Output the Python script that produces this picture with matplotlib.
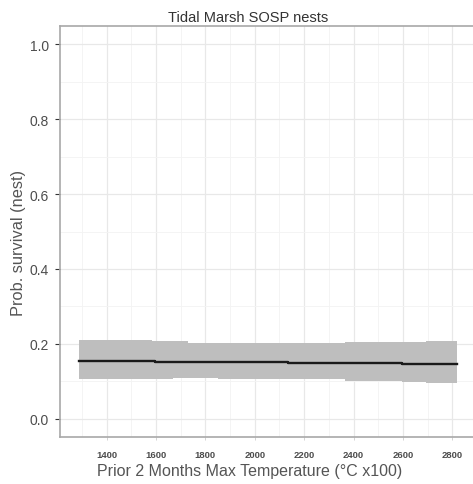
import numpy as np
import matplotlib
matplotlib.use('Agg')
import matplotlib.pyplot as plt

plt.rcParams['font.family'] = ['Liberation Sans', 'DejaVu Sans']

# Fitted survival (step-like)
line_x = [1288, 1596, 2135, 2595, 2818]
line_y = [0.155, 0.151, 0.1476, 0.145, 0.145]

# Confidence ribbon
ribbon_x = [1288, 1582, 1667, 1730, 1852, 2365, 2595, 2695, 2818]
ribbon_hi = [0.210, 0.2065, 0.2065, 0.202, 0.202, 0.2036, 0.2036, 0.207, 0.207]
ribbon_lo = [0.107, 0.107, 0.109, 0.109, 0.106, 0.101, 0.098, 0.095, 0.095]

x_ticks = [1400, 1600, 1800, 2000, 2200, 2400, 2600, 2800]
y_ticks = [0.0, 0.2, 0.4, 0.6, 0.8, 1.0]

W, H = 473, 485
fig = plt.figure(figsize=(W / 100, H / 100), dpi=100)
ax = fig.add_axes([60 / W, (H - 438.3) / H, 415.7 / W, (438.3 - 26.7) / H])

ax.fill_between(ribbon_x, ribbon_lo, ribbon_hi, step='post',
                color='#bebebe', linewidth=0, zorder=2)
ax.plot(line_x, line_y, drawstyle='steps-post', color='#1a1a1a',
        linewidth=1.7, zorder=3)

ax.set_xlim(1211, 2895)
ax.set_ylim(-0.05, 1.05)

ax.set_xticks(x_ticks)
ax.set_xticklabels([str(t) for t in x_ticks])
ax.set_xticks(np.arange(1300, 2900, 200), minor=True)
ax.set_yticks(y_ticks)
ax.set_yticklabels([f'{t:.1f}' for t in y_ticks])
ax.set_yticks([0.1, 0.3, 0.5, 0.7, 0.9], minor=True)

ax.grid(True, which='major', color='#e8e8e8', linewidth=0.9, zorder=0)
ax.grid(True, which='minor', color='#f3f3f3', linewidth=0.6, zorder=0)
ax.set_axisbelow(True)

for side in ['left', 'bottom', 'top', 'right']:
    ax.spines[side].set_color('#a8a8a8')
    ax.spines[side].set_linewidth(1.2)

ax.tick_params(axis='y', which='major', length=3.6, width=0.8, color='#333333',
               pad=4.5, labelsize=10, labelcolor='#4d4d4d')
ax.tick_params(axis='x', which='major', length=2.5, width=0.6, color='#cccccc',
               pad=7, labelsize=6.8, labelcolor='#4d4d4d')
ax.tick_params(which='minor', length=0)
for lbl in ax.get_xticklabels():
    lbl.set_fontweight('bold')

ax.set_xlabel('Prior 2 Months Max Temperature (°C x100)', fontsize=11.5,
              color='#555555')
ax.xaxis.set_label_coords((250 - 60) / 415.7, -(471.7 - 438.3) / 411.6)
ax.xaxis.label.set_va('center')
ax.set_ylabel('Prob. survival (nest)', fontsize=11.8, color='#555555')
ax.yaxis.set_label_coords(-(60 - 18) / 415.7, (438.3 - 242.5) / 411.6)
ax.yaxis.label.set_va('center')

fig.text(248 / W, 1 - 18 / H, 'Tidal Marsh SOSP nests', ha='center', va='center',
         fontsize=10.5, color='#333333')

fig.savefig('out.png', dpi=100)
